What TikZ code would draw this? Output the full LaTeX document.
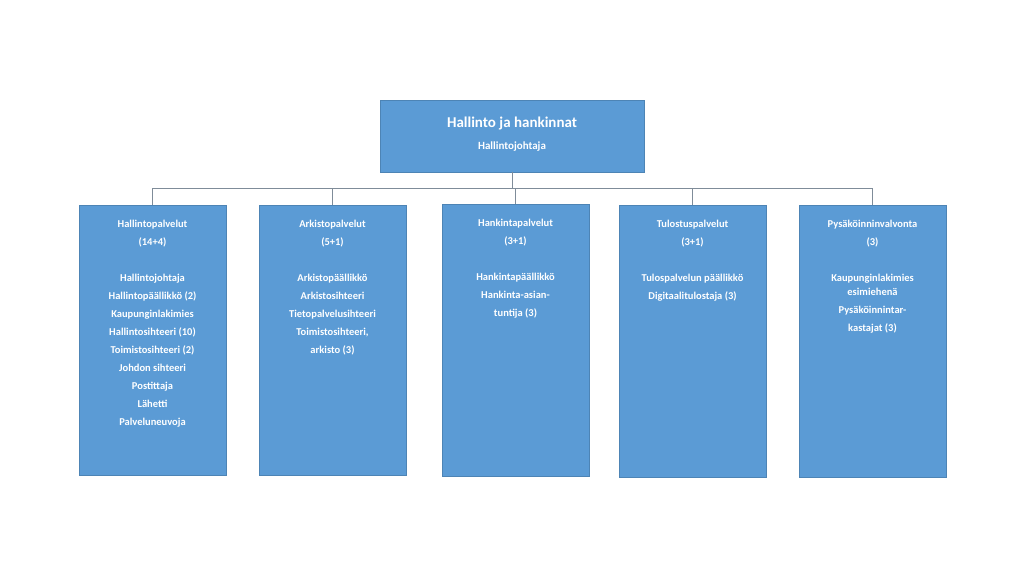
\documentclass[tikz,border=0pt]{standalone}
\usepackage{fontspec}
\setmainfont{Carlito}
\definecolor{bx}{HTML}{5B9BD5}
\definecolor{ln}{HTML}{7F8C99}
\begin{document}
\begin{tikzpicture}[x=1pt,y=-1pt,
  boxst/.style={fill=bx,draw=bx!85!black,line width=0.4pt},
  txt/.style={text=white,font=\bfseries\fontsize{10.5}{18}\selectfont,align=center,anchor=north,inner sep=0pt},
  conn/.style={draw=ln,line width=0.8pt}]
\useasboundingbox (0,0) rectangle (1024,576);
\draw[boxst] (380,100) rectangle (644,172);
\node[text=white,font=\bfseries\fontsize{15}{18}\selectfont,inner sep=0pt] (rt) at (512,124) {Hallinto ja hankinnat};
\node[text=white,font=\bfseries\fontsize{11}{14}\selectfont,inner sep=0pt] (rs) at (512,147) {Hallintojohtaja};
\coordinate (r) at (512,172);
\foreach \n/\x/\t/\b in {a/79/205/475,b/259/205/475,c/442/204/476,d/619/205/477,e/799/205/477}{
  \draw[boxst] (\x,\t) rectangle (\x+147,\b);
  \coordinate (\n) at (\x+73.5,\t);
}
\node[txt] (ta) at (152.5,220) {Hallintopalvelut\\(14+4)\\[18pt]Hallintojohtaja\\Hallintopäällikkö (2)\\Kaupunginlakimies\\Hallintosihteeri (10)\\Toimistosihteeri (2)\\Johdon sihteeri\\Postittaja\\Lähetti\\Palveluneuvoja};
\node[txt] (tb) at (332.5,220) {Arkistopalvelut\\(5+1)\\[18pt]Arkistopäällikkö\\Arkistosihteeri\\Tietopalvelusihteeri\\Toimistosihteeri,\\arkisto (3)};
\node[txt] (tc) at (515.5,219) {Hankintapalvelut\\(3+1)\\[18pt]Hankintapäällikkö\\Hankinta-asian-\\tuntija (3)};
\node[txt] (td) at (692.5,220) {Tulostuspalvelut\\(3+1)\\[18pt]Tulospalvelun päällikkö\\Digitaalitulostaja (3)};
\node[txt] (te) at (872.5,220) {Pysäköinninvalvonta\\(3)\\[18pt]Kaupunginlakimies\\[-4pt]esimiehenä\\Pysäköinnintar-\\kastajat (3)};
\draw[conn] (r) -- (512,188);
\draw[conn] (152.5,188) -- (872.5,188);
\foreach \n in {a,b,c,d,e}{\draw[conn] (\n) -- (\n |- 0,188);}
\end{tikzpicture}
\end{document}
